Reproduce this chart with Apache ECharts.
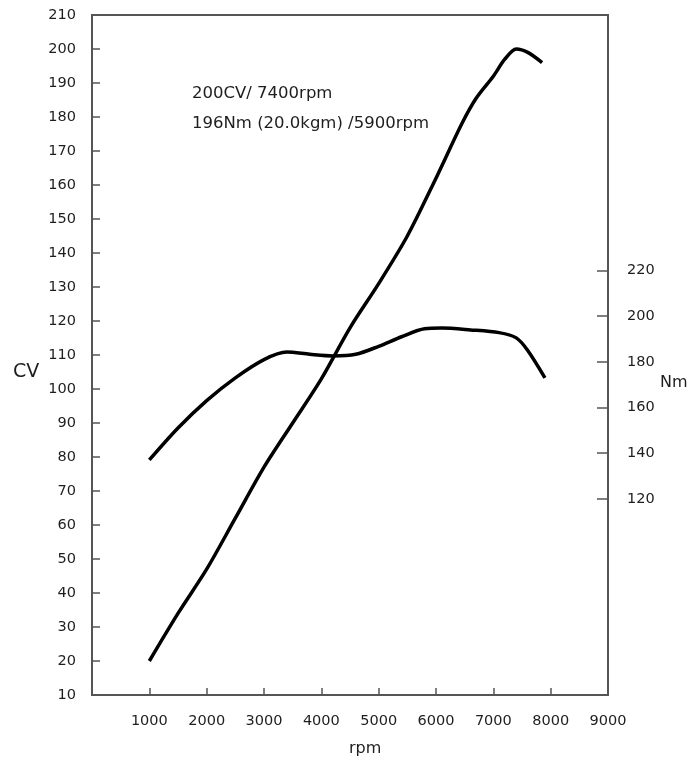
<html>
<head>
<meta charset="utf-8">
<script src="https://cdn.jsdelivr.net/npm/echarts@6/dist/echarts.min.js"></script>
<style>
  body { margin:0; padding:0; background:#fff; }
  #main { width:691px; height:759px; }
</style>
</head>
<body>
<div id="main"></div>
<script>
// power curve (CV, left axis)
var powerRpm = [1000, 1500, 2000, 2500, 3000, 3500, 4000, 4500, 5000, 5500, 6000, 6450, 6700, 7000, 7200, 7400, 7600, 7850];
var powerCv  = [20, 34, 47, 62, 77, 90, 103, 118, 131, 145, 162, 178, 185.5, 192, 197, 200, 199, 196];
// torque curve (Nm, right axis)
var torqueRpm = [1000, 1500, 2000, 2500, 3000, 3400, 3800, 4200, 4600, 5000, 5400, 5800, 6100, 6600, 7100, 7400, 7600, 7900];
var torqueNm  = [137, 151, 163, 173, 181, 184.3, 183.3, 182.6, 183.3, 186.8, 191, 194.5, 194.8, 194, 192.8, 190.5, 185, 173];
// right axis tick labels
var nmTicks = [120, 140, 160, 180, 200, 220];
var notes = ['200CV/ 7400rpm', '196Nm (20.0kgm) /5900rpm'];

function pairs(xs, ys) {
  var out = [];
  for (var i = 0; i < xs.length; i++) out.push([xs[i], ys[i]]);
  return out;
}

var font = 'DejaVu Sans';
var axisCol = '#555';
var txtCol = '#1e1e1e';

var chart = echarts.init(document.getElementById('main'), null, {renderer: 'canvas'});
chart.setOption({
  animation: false,
  backgroundColor: '#fff',
  grid: { left: 92, right: 83, top: 15, bottom: 64, show: true, borderColor: axisCol, borderWidth: 2 },
  xAxis: {
    type: 'value', min: 0, max: 9000, interval: 1000,
    axisLine: { lineStyle: { color: axisCol, width: 2 } },
    axisTick: { inside: true, length: 7, lineStyle: { color: axisCol, width: 1.5 } },
    axisLabel: { margin: 19, fontFamily: font, fontSize: 14.5, color: txtCol,
      formatter: function (v) { return v === 0 ? '' : v; } },
    splitLine: { show: false }
  },
  yAxis: [
    {
      type: 'value', min: 10, max: 210, interval: 10, position: 'left',
      axisLine: { show: true, lineStyle: { color: axisCol, width: 2 } },
      axisTick: { show: true, inside: true, length: 8, lineStyle: { color: axisCol, width: 1.5 } },
      axisLabel: { margin: 16, fontFamily: font, fontSize: 14.5, color: txtCol },
      splitLine: { show: false }
    },
    {
      type: 'value', min: 34, max: 332, position: 'right',
      axisLine: { show: true, lineStyle: { color: axisCol, width: 2 } },
      axisTick: { show: true, inside: true, length: 11, customValues: nmTicks, lineStyle: { color: axisCol, width: 1.5 } },
      axisLabel: { margin: 19, fontFamily: font, fontSize: 14.5, color: txtCol, customValues: nmTicks },
      splitLine: { show: false }
    }
  ],
  series: [
    {
      name: 'CV', type: 'line', yAxisIndex: 0, smooth: 0.3, showSymbol: false,
      lineStyle: { color: '#000', width: 3.5 },
      data: pairs(powerRpm, powerCv)
    },
    {
      name: 'Nm', type: 'line', yAxisIndex: 1, smooth: 0.3, showSymbol: false,
      lineStyle: { color: '#000', width: 3.5 },
      data: pairs(torqueRpm, torqueNm)
    }
  ],
  graphic: [
    { type: 'text', left: 192, top: 85, style: { text: notes[0], font: '16.5px "DejaVu Sans"', fill: txtCol } },
    { type: 'text', left: 192, top: 115, style: { text: notes[1], font: '16.5px "DejaVu Sans"', fill: txtCol } },
    { type: 'text', left: 13, top: 363, style: { text: 'CV', font: '19px "DejaVu Sans"', fill: txtCol } },
    { type: 'text', left: 660, top: 375, style: { text: 'Nm', font: '16px "DejaVu Sans"', fill: txtCol } },
    { type: 'text', left: 349, top: 741, style: { text: 'rpm', font: '16px "DejaVu Sans"', fill: txtCol } }
  ]
});
</script>
</body>
</html>
